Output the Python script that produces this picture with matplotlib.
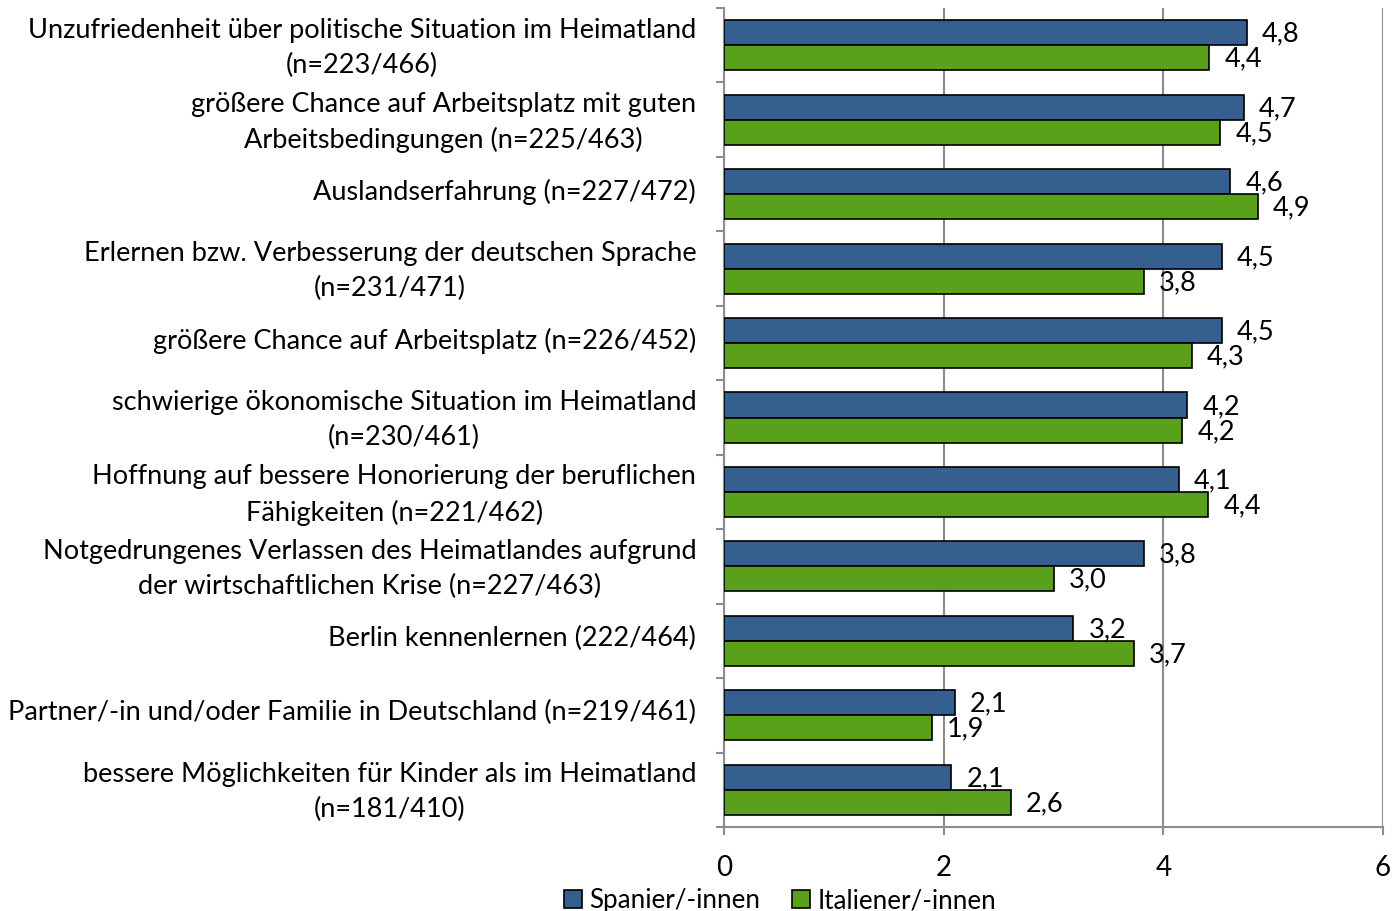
import matplotlib
matplotlib.use("Agg")
import matplotlib.pyplot as plt
import matplotlib.transforms as mtransforms
import numpy as np

plt.rcParams['font.family'] = ['Lato', 'DejaVu Sans']

categories = [
    "Unzufriedenheit über politische Situation im Heimatland\n(n=223/466)",
    "größere Chance auf Arbeitsplatz mit guten\nArbeitsbedingungen (n=225/463)",
    "Auslandserfahrung (n=227/472)",
    "Erlernen bzw. Verbesserung der deutschen Sprache\n(n=231/471)",
    "größere Chance auf Arbeitsplatz (n=226/452)",
    "schwierige ökonomische Situation im Heimatland\n(n=230/461)",
    "Hoffnung auf bessere Honorierung der beruflichen\nFähigkeiten (n=221/462)",
    "Notgedrungenes Verlassen des Heimatlandes aufgrund\nder wirtschaftlichen Krise (n=227/463)",
    "Berlin kennenlernen (222/464)",
    "Partner/-in und/oder Familie in Deutschland (n=219/461)",
    "bessere Möglichkeiten für Kinder als im Heimatland\n(n=181/410)",
]
spanier = [4.76, 4.73, 4.61, 4.53, 4.53, 4.22, 4.14, 3.82, 3.18, 2.10, 2.07]
italiener = [4.42, 4.52, 4.86, 3.82, 4.26, 4.17, 4.41, 3.00, 3.73, 1.89, 2.61]
series_names = ["Spanier/-innen", "Italiener/-innen"]
xticks = [0, 2, 4, 6]

blue = "#345F8E"
green = "#5AA01A"
grid_c = "#8C8C8C"

fig = plt.figure(figsize=(13.92, 9.11), dpi=100)
W, H = 1392, 911
ax = fig.add_axes([724 / W, 1 - 827 / H, (1383 - 724) / W, (827 - 8) / H])

n = len(categories)
y = np.arange(n)
bh = 0.336
ax.barh(y - bh / 2, spanier, height=bh, color=blue, edgecolor="black", linewidth=1.2, label=series_names[0], zorder=3)
ax.barh(y + bh / 2, italiener, height=bh, color=green, edgecolor="black", linewidth=1.2, label=series_names[1], zorder=3)

for yi, v in zip(y - bh / 2, spanier):
    ax.annotate(f"{v:.1f}".replace(".", ","), (v, yi), xytext=(11, -1), textcoords="offset points",
                ha="left", va="center", fontsize=19.5, zorder=4)
for yi, v in zip(y + bh / 2, italiener):
    ax.annotate(f"{v:.1f}".replace(".", ","), (v, yi), xytext=(11, -1), textcoords="offset points",
                ha="left", va="center", fontsize=19.5, zorder=4)

ax.set_xlim(0, 6)
ax.set_ylim(n - 0.5, -0.5)
ax.set_xticks(xticks)
ax.set_xticklabels([str(t) for t in xticks], fontsize=20)
ax.set_yticks(y)
ax.set_yticklabels(categories, fontsize=19.5, multialignment="center", linespacing=1.5)
ax.tick_params(axis="y", length=0, pad=20)
ax.set_yticks(np.arange(n + 1) - 0.5, minor=True)
ax.tick_params(axis="y", which="minor", length=6, width=1.5, color=grid_c)
ax.tick_params(axis="x", length=6, width=1.5, color=grid_c, pad=14)

shift = mtransforms.ScaledTranslation(0, 5 / 100, fig.dpi_scale_trans)
for lbl in ax.get_yticklabels():
    lbl.set_transform(lbl.get_transform() + shift)

ax.xaxis.grid(True, color=grid_c, linewidth=1.5, zorder=0)
ax.set_axisbelow(True)
for s in ["top", "right"]:
    ax.spines[s].set_visible(False)
for s in ["left", "bottom"]:
    ax.spines[s].set_color(grid_c)
    ax.spines[s].set_linewidth(1.5)

leg = fig.legend(loc="lower center", bbox_to_anchor=(780 / W, -0.028), ncol=2, frameon=False,
                 fontsize=18.7, handlelength=0.7, handleheight=0.7, handletextpad=0.3, columnspacing=1.2)

fig.savefig("out.png", dpi=100)
